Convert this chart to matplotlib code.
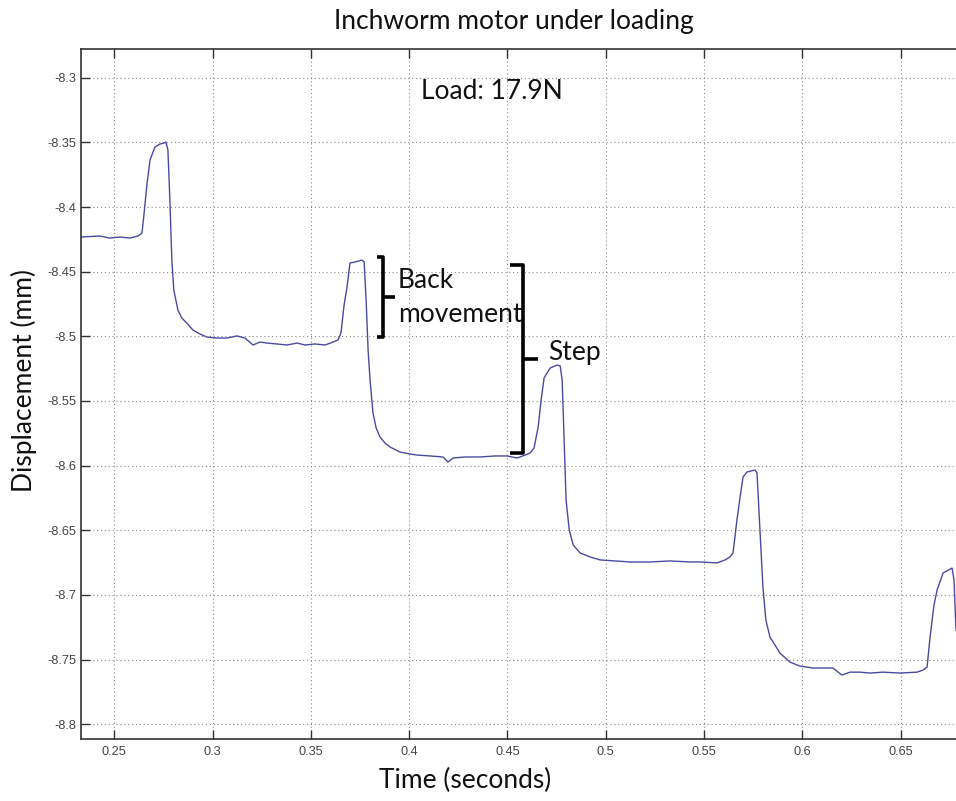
import matplotlib
matplotlib.use("Agg")
import matplotlib.pyplot as plt

# Measured displacement trace of the inchworm motor (time in s, displacement in mm)
time_s = [
    0.2331, 0.2427, 0.2478, 0.2529, 0.2580, 0.2621, 0.2641, 0.2651, 0.2666, 0.2682,
    0.2707, 0.2732, 0.2753, 0.2763, 0.2773, 0.2783, 0.2793, 0.2803, 0.2824, 0.2844,
    0.2869, 0.2900, 0.2936, 0.2971, 0.3022, 0.3073, 0.3124, 0.3165, 0.3206, 0.3241,
    0.3277, 0.3328, 0.3379, 0.3430, 0.3471, 0.3521, 0.3572, 0.3613, 0.3638, 0.3653,
    0.3669, 0.3684, 0.3699, 0.3725, 0.3760, 0.3771, 0.3781, 0.3791, 0.3801, 0.3816,
    0.3832, 0.3852, 0.3877, 0.3903, 0.3954, 0.4005, 0.4040, 0.4106, 0.4172, 0.4198,
    0.4223, 0.4284, 0.4361, 0.4437, 0.4498, 0.4549, 0.4590, 0.4615, 0.4635, 0.4656,
    0.4671, 0.4686, 0.4717, 0.4753, 0.4768, 0.4778, 0.4788, 0.4798, 0.4814, 0.4834,
    0.4869, 0.4920, 0.4971, 0.5047, 0.5123, 0.5225, 0.5327, 0.5429, 0.5479, 0.5566,
    0.5607, 0.5632, 0.5647, 0.5667, 0.5683, 0.5698, 0.5718, 0.5759, 0.5769, 0.5784,
    0.5799, 0.5814, 0.5835, 0.5886, 0.5936, 0.5987, 0.6053, 0.6155, 0.6201, 0.6242,
    0.6292, 0.6343, 0.6410, 0.6496, 0.6583, 0.6613, 0.6634, 0.6649, 0.6669, 0.6685,
    0.6715, 0.6751, 0.6761, 0.6771, 0.6781,
]
displacement_mm = [
    -8.4232, -8.4224, -8.4240, -8.4232, -8.4240, -8.4224, -8.4201, -8.4062, -8.3830, -8.3636,
    -8.3536, -8.3513, -8.3505, -8.3497, -8.3559, -8.3947, -8.4410, -8.4643, -8.4797, -8.4859,
    -8.4897, -8.4951, -8.4982, -8.5005, -8.5013, -8.5013, -8.4997, -8.5013, -8.5067, -8.5044,
    -8.5052, -8.5059, -8.5067, -8.5052, -8.5067, -8.5059, -8.5067, -8.5044, -8.5028, -8.4974,
    -8.4758, -8.4618, -8.4433, -8.4425, -8.4410, -8.4425, -8.4719, -8.5105, -8.5338, -8.5593,
    -8.5709, -8.5779, -8.5825, -8.5856, -8.5895, -8.5910, -8.5918, -8.5925, -8.5933, -8.5972,
    -8.5941, -8.5933, -8.5933, -8.5925, -8.5925, -8.5941, -8.5918, -8.5902, -8.5864, -8.5701,
    -8.5493, -8.5322, -8.5245, -8.5222, -8.5229, -8.5338, -8.5802, -8.6266, -8.6497, -8.6613,
    -8.6675, -8.6706, -8.6729, -8.6737, -8.6745, -8.6745, -8.6737, -8.6745, -8.6745, -8.6752,
    -8.6729, -8.6706, -8.6675, -8.6420, -8.6242, -8.6088, -8.6049, -8.6034, -8.6057, -8.6498,
    -8.6939, -8.7194, -8.7326, -8.7450, -8.7519, -8.7550, -8.7565, -8.7565, -8.7620, -8.7597,
    -8.7597, -8.7604, -8.7597, -8.7604, -8.7597, -8.7581, -8.7558, -8.7326, -8.7078, -8.6962,
    -8.6831, -8.6800, -8.6792, -8.6885, -8.7272,
]

x_ticks = [0.25, 0.3, 0.35, 0.4, 0.45, 0.5, 0.55, 0.6, 0.65]
x_tick_labels = ["0.25", "0.3", "0.35", "0.4", "0.45", "0.5", "0.55", "0.6", "0.65"]
y_ticks = [-8.3, -8.35, -8.4, -8.45, -8.5, -8.55, -8.6, -8.65, -8.7, -8.75, -8.8]
y_tick_labels = ["-8.3", "-8.35", "-8.4", "-8.45", "-8.5", "-8.55", "-8.6", "-8.65",
                 "-8.7", "-8.75", "-8.8"]

W, H = 956, 801
fig = plt.figure(figsize=(W / 100, H / 100), dpi=100)
ax = fig.add_axes([81 / W, (H - 739) / H, (956 - 81) / W, (739 - 48.5) / H])

ax.plot(time_s, displacement_mm, color="#4a4aa2", linewidth=1.0)

ax.set_xlim(0.2331, 0.6781)
ax.set_ylim(-8.8114, -8.2774)
ax.set_xticks(x_ticks)
ax.set_xticklabels(x_tick_labels)
ax.set_yticks(y_ticks)
ax.set_yticklabels(y_tick_labels)

for lbl in ax.get_xticklabels() + ax.get_yticklabels():
    lbl.set_fontfamily("Liberation Sans")
    lbl.set_fontsize(9.2)
    lbl.set_color("#444444")

ax.tick_params(axis="y", direction="in", length=6.5, width=1.0, color="#333333",
               right=False, pad=3.5)
ax.tick_params(axis="x", direction="in", length=6.5, width=1.0, color="#333333",
               top=True, pad=5)
ax.grid(True, color="#8a8a8a", linestyle=(0, (1, 2.5)), linewidth=0.8)
for side in ("left", "bottom", "top"):
    ax.spines[side].set_color("#333333")
    ax.spines[side].set_linewidth(1.2)
ax.spines["right"].set_visible(False)

label_font = dict(family=["Lato", "DejaVu Sans"], size=19, color="#111111")

fig.text(514 / W, 1 - 29.3 / H, "Inchworm motor under loading", ha="center",
         va="baseline", **label_font)
fig.text(465 / W, 1 - 788 / H, "Time (seconds)", ha="center", va="baseline", **label_font)
fig.text(24 / W, 1 - 380 / H, "Displacement (mm)", ha="center", va="center",
         rotation=90, **label_font)

ax.text(0.4419, -8.3161, "Load: 17.9N", ha="center", va="baseline", **label_font)


def bracket(x, y_top, y_bot, serif, nub, y_nub):
    """Right-facing curly-style bracket drawn with straight strokes."""
    kw = dict(color="black", linewidth=2.6, solid_capstyle="butt", clip_on=False)
    ax.plot([x - serif, x, x, x - serif], [y_top, y_top, y_bot, y_bot], **kw)
    ax.plot([x, x + nub], [y_nub, y_nub], **kw)


bracket(0.3867, -8.4387, -8.5005, 0.0031, 0.0061, -8.4696)
bracket(0.4579, -8.4450, -8.5902, 0.0066, 0.0076, -8.5175)

ax.text(0.3943, -8.4626, "Back", ha="left", va="baseline", **label_font)
ax.text(0.3943, -8.4889, "movement", ha="left", va="baseline", **label_font)
ax.text(0.4706, -8.5186, "Step", ha="left", va="baseline", **label_font)

fig.savefig("out.png", dpi=100)
